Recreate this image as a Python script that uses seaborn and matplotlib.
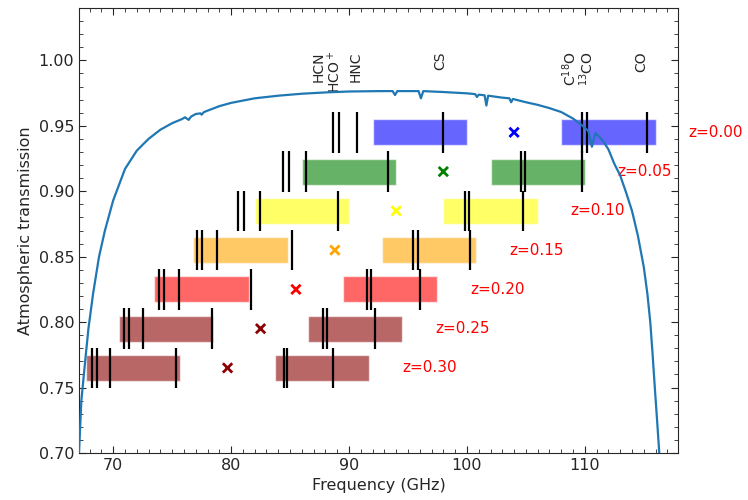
import numpy as np
import pandas as pd
import matplotlib
matplotlib.use("Agg")
import matplotlib.pyplot as plt
import seaborn as sns

# atmospheric transmission curve
freq = [67.1, 67.3, 67.6, 67.9, 68.3, 68.8, 69.3, 70.0, 71.0, 72.0, 73.0, 74.0,
        75.0, 75.8, 76.1, 76.4, 76.6, 77.0, 77.4, 77.5, 77.7, 79.0, 80.0, 82.0,
        84.0, 86.0, 88.0, 90.0, 92.5, 93.7, 93.9, 94.1, 95.9, 96.1, 96.3, 98.0,
        100.0, 100.7, 100.85, 101.0, 101.5, 101.65, 101.8, 103.0, 103.6, 103.75,
        103.9, 105.0, 106.0, 107.0, 108.0, 109.0, 109.8, 110.3, 110.6, 110.9,
        111.5, 112.0, 112.5, 113.0, 113.5, 114.0, 114.5, 115.0, 115.3, 115.55,
        115.75, 115.95, 116.15, 116.35]
trans = [0.700, 0.740, 0.768, 0.795, 0.822, 0.850, 0.870, 0.893, 0.917, 0.931,
         0.940, 0.947, 0.952, 0.955, 0.9565, 0.9545, 0.957, 0.959, 0.9595, 0.9585,
         0.9605, 0.965, 0.9675, 0.971, 0.973, 0.9745, 0.9755, 0.9762, 0.9765,
         0.9765, 0.9735, 0.9765, 0.9765, 0.971, 0.9765, 0.9758, 0.9748, 0.9742,
         0.972, 0.9738, 0.9733, 0.9655, 0.973, 0.9715, 0.971, 0.968, 0.9705,
         0.968, 0.966, 0.9635, 0.9605, 0.9555, 0.950, 0.946, 0.934, 0.9445, 0.939,
         0.932, 0.921, 0.912, 0.899, 0.885, 0.866, 0.842, 0.822, 0.800, 0.775,
         0.748, 0.722, 0.695]

# tunings per redshift
redshifts = [0.00, 0.05, 0.10, 0.15, 0.20, 0.25, 0.30]
lo_freq = [104.0, 98.0, 94.0, 88.8, 85.5, 82.5, 79.7]
row_level = [0.945, 0.915, 0.885, 0.855, 0.825, 0.795, 0.765]
lsb_start = [92.0, 86.0, 82.0, 76.8, 73.5, 70.5, 67.7]
usb_start = [108.0, 102.0, 98.0, 92.8, 89.5, 86.5, 83.7]
band_width = 8.0
colors = ["blue", "green", "yellow", "orange", "red", "darkred", "darkred"]

# molecular lines (rest frequencies, GHz)
line_names = ["HCN", "HCO$^+$", "HNC", "CS", "C$^{18}$O", "$^{13}$CO", "CO"]
rest_freq = [88.63, 89.19, 90.66, 97.98, 109.78, 110.20, 115.27]
label_x = [87.45, 88.75, 90.55, 97.75, 108.7, 110.15, 114.8]

fig = plt.figure(figsize=(7.48, 5.0), dpi=100)
sns.set_style("ticks")
plt.rcParams["font.family"] = ["DejaVu Sans"]
ax = fig.add_axes([0.1056, 0.094, 0.8008, 0.89])

# sideband boxes
for i in range(len(redshifts)):
    y = row_level[i]
    ax.barh([y, y], [band_width, band_width], left=[lsb_start[i], usb_start[i]],
            height=0.02, color=colors[i], alpha=0.6, zorder=1)
    obs = np.array(rest_freq) / (1 + redshifts[i])
    ax.vlines(obs, y - 0.0155, y + 0.0155, color="black", lw=1.6, zorder=3)
    ax.text(lo_freq[i] + 14.8, y, f"z={redshifts[i]:.2f}", color="red",
            fontsize=11, ha="left", va="center")

lo = pd.DataFrame({"lo": lo_freq, "y": row_level, "z": [str(z) for z in redshifts]})
sns.scatterplot(data=lo, x="lo", y="y", hue="z", palette=colors, marker="x",
                s=45, linewidth=2, legend=False, ax=ax, zorder=4)

atm = pd.DataFrame({"freq": freq, "trans": trans})
sns.lineplot(data=atm, x="freq", y="trans", color="#1f77b4", lw=1.6, ax=ax,
             zorder=5, sort=False)

for name, x in zip(line_names, label_x):
    ax.text(x, 1.007, name, rotation=90, ha="center", va="top", fontsize=10)

ax.set_xlim(67.1, 117.9)
ax.set_ylim(0.70, 1.04)
ax.set_xticks([70, 80, 90, 100, 110])
ax.set_yticks([0.70, 0.75, 0.80, 0.85, 0.90, 0.95, 1.00])
ax.set_xticks(np.arange(68, 118, 1), minor=True)
ax.set_yticks(np.arange(0.70, 1.04, 0.01), minor=True)
ax.tick_params(which="both", direction="in", top=True, right=True, labelsize=11.5)
ax.tick_params(which="major", length=5)
ax.tick_params(which="minor", length=3)
ax.set_xlabel("Frequency (GHz)", fontsize=11.5)
ax.set_ylabel("Atmospheric transmission", fontsize=11.5)

fig.savefig("out.png", dpi=100)
